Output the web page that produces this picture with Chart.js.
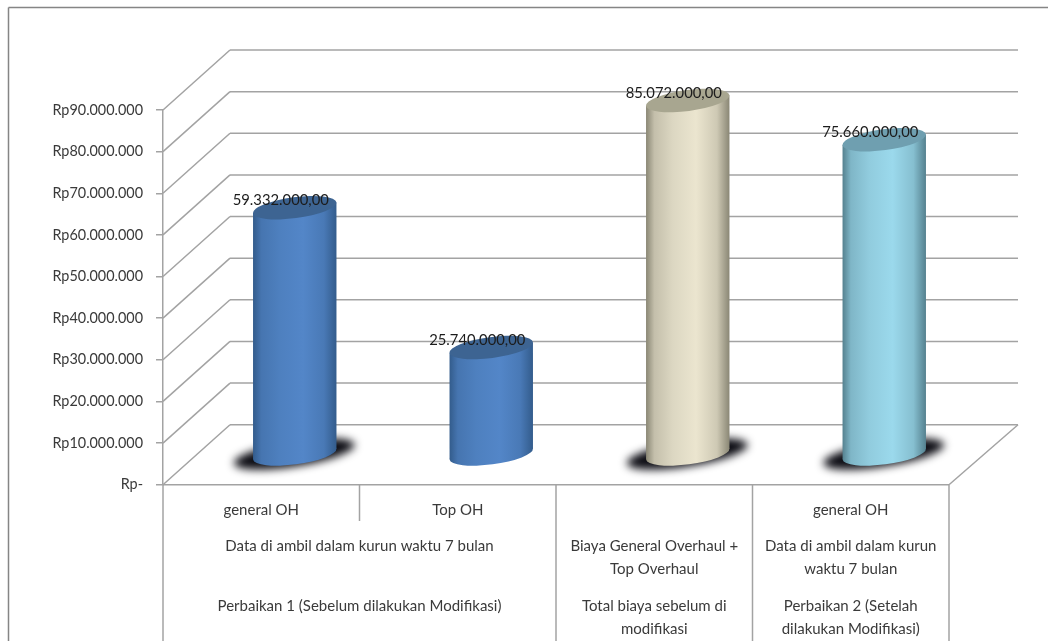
<!DOCTYPE html>
<html>
<head>
<meta charset="utf-8">
<style>
html,body{margin:0;padding:0;background:#fff;overflow:hidden}
#wrap{width:1048px;height:641px}
</style>
<script src="https://cdn.jsdelivr.net/npm/chart.js@4"></script>
</head>
<body>
<div id="wrap"><canvas id="biaya" width="1048" height="641"></canvas></div>
<script>
const categories=["general OH","Top OH","",  "general OH"]
const values=[59332000,25740000,85072000,75660000]
const valueLabels=["59.332.000,00","25.740.000,00","85.072.000,00","75.660.000,00"]
const yMax=90000000
const yStep=10000000

// second and third row of the category table: [first category, last category, lines]
const groupRow2=[
[0,1,["Data di ambil dalam kurun waktu 7 bulan"]],
[2,2,["Biaya General Overhaul +","Top Overhaul"]],
[3,3,["Data di ambil dalam kurun","waktu 7 bulan"]]
]
const groupRow3=[
[0,1,["Perbaikan 1 (Sebelum dilakukan Modifikasi)"]],
[2,2,["Total biaya sebelum di","modifikasi"]],
[3,3,["Perbaikan 2 (Setelah","dilakukan Modifikasi)"]]
]

// bright centre, dark edge, top cap
const barColors=[
["#5386c8","#335c8c","#3d6492"],
["#5386c8","#335c8c","#3d6492"],
["#ebe5cf","#8a8775","#a8a690"],
["#9bd9ec","#55818f","#6f9fb0"]
]
const noShadow=[1]

const DEPTH_X=67
const DEPTH_Y=60
const LINE="#a3a3a3"
const FONT='Lato, "Open Sans", sans-serif'
const TILT=-7.5*Math.PI/180
const CAP_RY=10.5

function rupiah(v){
if(v===0) return "Rp-"
return "Rp"+String(v).replace(/\B(?=(\d{3})+$)/g,".")
}

function seg(ctx,x1,y1,x2,y2){
ctx.beginPath()
ctx.moveTo(x1,y1)
ctx.lineTo(x2,y2)
ctx.stroke()
}

// sheet frame, side wall, back wall and floor
const wallsPlugin={
id:"walls",
beforeDatasetsDraw(chart){
const {ctx,chartArea:a,scales:{x,y}}=chart
ctx.save()
ctx.strokeStyle="#858585"
ctx.lineWidth=1.5
seg(ctx,8.5,7.5,chart.width,7.5)
seg(ctx,8.5,7.5,8.5,chart.height)

ctx.strokeStyle=LINE
ctx.lineWidth=1.5
const backRight=a.right+DEPTH_X+2
for(let v=0;v<=yMax;v+=yStep){
const py=y.getPixelForValue(v)
seg(ctx,a.left,py,a.left+DEPTH_X,py-DEPTH_Y)
seg(ctx,a.left+DEPTH_X,py-DEPTH_Y,backRight,py-DEPTH_Y)
}
const base=y.getPixelForValue(0)
seg(ctx,a.left,base,a.right,base)
seg(ctx,a.right,base,backRight,base-DEPTH_Y)

// category table rules
seg(ctx,a.left,base,a.left,chart.height)
const edge=i=>x.getPixelForValue(i)+(x.getPixelForValue(1)-x.getPixelForValue(0))/2
seg(ctx,edge(0),base,edge(0),521)
seg(ctx,edge(1),base,edge(1),chart.height)
seg(ctx,edge(2),base,edge(2),chart.height)
seg(ctx,edge(3),base,edge(3),chart.height)
ctx.restore()
},
afterDatasetsDraw(chart){
const {ctx,scales:{x}}=chart
const bars=chart.getDatasetMeta(0).data
bars.forEach((bar,i)=>{
if(noShadow.includes(i)) return
drawShadow(ctx,bar.x+DEPTH_X/2,bar.base-DEPTH_Y/2,bar.width/2)
})
bars.forEach((bar,i)=>{
drawCylinder(ctx,bar.x+DEPTH_X/2,bar.base-DEPTH_Y/2,bar.y-DEPTH_Y/2,bar.width/2,barColors[i])
})
ctx.save()
ctx.font='14.8px '+FONT
ctx.fillStyle="#1c1c1c"
ctx.textAlign="center"
ctx.textBaseline="middle"
bars.forEach((bar,i)=>{
ctx.fillText(valueLabels[i],bar.x+DEPTH_X/2-14,bar.y-DEPTH_Y/2-7)
})
ctx.font='15px '+FONT
ctx.fillStyle="#3a3a3a"
drawGroups(ctx,x,groupRow2,546)
drawGroups(ctx,x,groupRow3,606)
ctx.restore()
}
}

function drawGroups(ctx,x,row,top){
row.forEach(([from,to,lines])=>{
const cx=(x.getPixelForValue(from)+x.getPixelForValue(to))/2
lines.forEach((t,n)=>ctx.fillText(t,cx,top+n*22.7))
})
}

function drawShadow(ctx,cx,cy,rx){
ctx.save()
ctx.filter="blur(4px)"
ctx.fillStyle="#0b0b12"
ctx.beginPath()
ctx.ellipse(cx-0.5,cy,rx+19,CAP_RY+2,-9*Math.PI/180,0,Math.PI*2)
ctx.fill()
ctx.restore()
}

function drawCylinder(ctx,cx,baseY,topY,rx,colors){
// point where the tilted ellipse has a vertical tangent
const t=Math.atan(-(CAP_RY/rx)*Math.tan(TILT))
const ex=rx*Math.cos(t)*Math.cos(TILT)-CAP_RY*Math.sin(t)*Math.sin(TILT)
const ey=rx*Math.cos(t)*Math.sin(TILT)+CAP_RY*Math.sin(t)*Math.cos(TILT)
const g=ctx.createLinearGradient(cx-ex,0,cx+ex,0)
g.addColorStop(0,colors[1])
g.addColorStop(0.1,mix(colors[1],colors[0],0.6))
g.addColorStop(0.32,mix(colors[1],colors[0],0.85))
g.addColorStop(0.6,colors[0])
g.addColorStop(0.85,mix(colors[1],colors[0],0.7))
g.addColorStop(1,colors[1])
ctx.save()
ctx.fillStyle=g
ctx.beginPath()
ctx.moveTo(cx-ex,topY-ey)
ctx.lineTo(cx-ex,baseY-ey)
ctx.lineTo(cx+ex,baseY+ey)
ctx.lineTo(cx+ex,topY+ey)
ctx.closePath()
ctx.fill()
ctx.beginPath()
ctx.ellipse(cx,baseY,rx,CAP_RY,TILT,0,Math.PI*2)
ctx.fill()
ctx.fillStyle=colors[2]
ctx.beginPath()
ctx.ellipse(cx,topY,rx,CAP_RY,TILT,0,Math.PI*2)
ctx.fill()
ctx.restore()
}

function mix(a,b,f){
const p=c=>[1,3,5].map(i=>parseInt(c.substr(i,2),16))
const A=p(a),B=p(b)
return "rgb("+A.map((v,i)=>Math.round(v+(B[i]-v)*f)).join(",")+")"
}

new Chart(document.getElementById("biaya"),{
type:"bar",
data:{
labels:categories,
datasets:[{
data:values,
backgroundColor:"rgba(0,0,0,0)",
borderWidth:0,
categoryPercentage:1,
barPercentage:0.428
}]
},
plugins:[wallsPlugin],
options:{
responsive:false,
animation:false,
layout:{padding:{top:110,right:99,left:0,bottom:0}},
plugins:{legend:{display:false},tooltip:{enabled:false}},
scales:{
x:{
grid:{display:false},
border:{display:false},
afterFit(s){s.height=156.3},
ticks:{
color:"#3a3a3a",
font:{family:FONT,size:15},
padding:8,
maxRotation:0,
autoSkip:false
}
},
y:{
min:0,
max:yMax,
afterFit(s){s.width=163},
grid:{drawOnChartArea:false,drawTicks:true,tickLength:7,color:LINE,lineWidth:1.5},
border:{display:true,color:LINE,width:1.5},
ticks:{
stepSize:yStep,
padding:13,
color:"#3a3a3a",
font:{family:FONT,size:14.4},
callback:v=>rupiah(v)
}
}
}
}
})
</script>
</body>
</html>
